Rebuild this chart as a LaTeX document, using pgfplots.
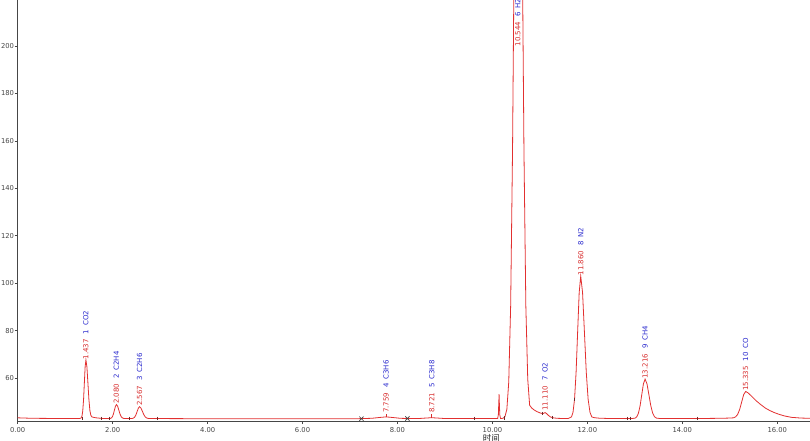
\documentclass[border=0pt]{standalone}
\usepackage{pgfplots}
\pgfplotsset{compat=1.18}
\usepackage{fontspec}
\setmainfont{DejaVu Sans}
\newfontfamily\cjk{Noto Sans CJK SC}
\definecolor{trace}{RGB}{226,48,48}
\definecolor{lblred}{RGB}{215,45,45}
\definecolor{lblblue}{RGB}{40,40,205}
\definecolor{axisgray}{RGB}{70,70,70}
\definecolor{mk}{RGB}{110,40,40}
\tikzset{lbl/.style={rotate=90, anchor=west, inner sep=0.5pt, font=\fontsize{7}{8}\selectfont}}
\begin{document}
\begin{tikzpicture}
\begin{axis}[
 at={(0,0)}, anchor=south west,
 scale only axis, width=792.3pt, height=421pt,
 xmin=0, xmax=16.69, ymin=41.86, ymax=219.4,
 axis x line=bottom, axis y line=left,
 axis line style={-, axisgray, line width=0.8pt},
 xtick={0,2,4,6,8,10,12,14,16}, ytick={60,80,100,120,140,160,180,200},
 tick align=outside, major tick length=3pt,
 tick style={axisgray, line width=0.6pt},
 ticklabel style={font=\fontsize{6.8}{8}\selectfont, text=axisgray},
 yticklabel style={inner sep=0.5pt, /pgf/number format/.cd, fixed, precision=0},
 /pgf/number format/assume math mode=true,
 xticklabel style={/pgf/number format/.cd, fixed, fixed zerofill, precision=2},
 clip=false,
]
\begin{scope}
\clip (axis cs:0,41.86) rectangle (axis cs:16.69,219.4);
\addplot[trace, line width=0.8pt] coordinates {
(0,43.2) (0.3,43.0) (1.0,42.9) (1.305,42.9) (1.338,43.17) (1.3545,43.98) (1.371,46.24) (1.3875,50.92) (1.404,57.88) (1.4205,64.7) (1.437,67.6) (1.458,64.7) (1.479,57.88) (1.5,50.92) (1.521,46.24) (1.542,44.2) (1.563,43.6) (1.6,43.4) (1.65,43.2) (1.7,43.1) (1.78,42.95)
(1.912,42.9) (1.954,42.97) (1.975,43.16) (1.996,43.7) (2.017,44.82) (2.038,46.48) (2.059,48.1) (2.08,48.8) (2.105,48.1) (2.13,46.48) (2.155,44.82) (2.18,43.7) (2.205,43.16) (2.23,42.97) (2.28,42.9)
(2.367,42.9) (2.417,42.96) (2.442,43.12) (2.467,43.58) (2.492,44.52) (2.517,45.93) (2.542,47.31) (2.567,47.9) (2.597,47.31) (2.627,45.93) (2.657,44.52) (2.687,43.58) (2.717,43.12) (2.747,42.96) (2.807,42.9)
(3.5,42.85) (5.0,42.8) (6.5,42.8) (7.2,42.85) (7.459,43.0) (7.609,43.32) (7.759,43.6) (7.909,43.32) (8.059,43.0) (8.21,42.91) (8.48,42.95) (8.6,43.11) (8.721,43.25) (8.84,43.11) (8.96,42.95) (9.5,42.9)
(10.11,42.9) (10.125,44.5) (10.135,50) (10.14,53.2) (10.145,50) (10.155,44.5) (10.17,42.9)
(10.224,43.0) (10.264,43.67) (10.304,46.8) (10.344,58.3) (10.384,90.3) (10.424,156.5) (10.464,254.9) (10.504,351.8) (10.544,392.9) (10.584,351.8) (10.624,254.9) (10.664,156.5) (10.704,90.3) (10.744,59.5) (10.784,48.5) (10.83,47.3) (10.88,46.5) (10.94,45.8) (11.0,45.3) (11.05,45.0) (11.08,45.1) (11.11,45.4) (11.14,45.0) (11.18,44.2) (11.22,43.6) (11.28,43.2) (11.36,43.0) (11.5,42.9)
(11.6,42.92) (11.665,43.57) (11.6975,45.54) (11.73,51.03) (11.7625,62.41) (11.795,79.35) (11.8275,95.94) (11.86,103.0) (11.899,95.94) (11.938,79.35) (11.977,62.41) (12.016,51.03) (12.055,45.54) (12.094,43.57) (12.15,43.25) (12.25,43.05) (12.4,42.95)
(12.936,42.9) (13.006,43.08) (13.041,43.63) (13.076,45.15) (13.111,48.29) (13.146,52.97) (13.181,57.55) (13.216,59.5) (13.256,57.55) (13.296,52.97) (13.336,48.29) (13.376,45.15) (13.416,43.63) (13.456,43.08) (13.536,42.9)
(14.3,42.9) (14.8,43.0) (14.995,43.1) (15.08,43.2) (15.1225,43.6) (15.165,44.6) (15.2075,46.7) (15.25,49.8) (15.2925,53.0) (15.335,54.3) (15.38,53.8) (15.45,52.5) (15.55,50.5) (15.65,48.8) (15.75,47.3) (15.85,46.2) (15.95,45.3) (16.05,44.6) (16.15,44.0) (16.3,43.4) (16.5,43.1) (16.69,43.0)
};
\end{scope}
% peak boundary markers
\addplot[only marks, mark=|, mark size=1.8pt, mark options={mk, line width=0.6pt}] coordinates {
(1.36,42.9) (1.77,42.95) (1.92,42.9) (2.35,42.9) (2.95,42.9) (9.62,42.9) (10.25,43.2) (11.26,43.3) (11.73,51.0) (12.84,42.9) (12.91,42.9) (14.32,42.9) (11.06,45.0)
};
\addplot[only marks, mark=x, mark size=3pt, mark options={black!75, line width=0.7pt}] coordinates {(7.24,42.85) (8.21,42.91)};
% connectors for small peaks
\addplot[lblred, line width=0.5pt] coordinates {(7.759,43.6) (7.759,45.0)};
\addplot[lblred, line width=0.5pt] coordinates {(8.721,43.25) (8.721,45.0)};
% labels
\node[lbl] at (axis cs:1.437,67.6) {\textcolor{lblred}{1.437}\hspace{5pt}\textcolor{lblblue}{1\hspace{4pt}CO2}};
\node[lbl] at (axis cs:2.080,48.8) {\textcolor{lblred}{2.080}\hspace{5pt}\textcolor{lblblue}{2\hspace{4pt}C2H4}};
\node[lbl] at (axis cs:2.567,47.9) {\textcolor{lblred}{2.567}\hspace{5pt}\textcolor{lblblue}{3\hspace{4pt}C2H6}};
\node[lbl] at (axis cs:7.759,45.0) {\textcolor{lblred}{7.759}\hspace{5pt}\textcolor{lblblue}{4\hspace{4pt}C3H6}};
\node[lbl] at (axis cs:8.721,45.0) {\textcolor{lblred}{8.721}\hspace{5pt}\textcolor{lblblue}{5\hspace{4pt}C3H8}};
\node[lbl] at (axis cs:10.535,199.6) {\textcolor{lblred}{10.544}\hspace{5pt}\textcolor{lblblue}{6\hspace{4pt}H2}};
\node[lbl] at (axis cs:11.110,46.0) {\textcolor{lblred}{11.110}\hspace{5pt}\textcolor{lblblue}{7\hspace{4pt}O2}};
\node[lbl] at (axis cs:11.860,103.0) {\textcolor{lblred}{11.860}\hspace{5pt}\textcolor{lblblue}{8\hspace{4pt}N2}};
\node[lbl] at (axis cs:13.216,59.5) {\textcolor{lblred}{13.216}\hspace{5pt}\textcolor{lblblue}{9\hspace{4pt}CH4}};
\node[lbl] at (axis cs:15.335,54.3) {\textcolor{lblred}{15.335}\hspace{5pt}\textcolor{lblblue}{10\hspace{4pt}CO}};
\node[anchor=north, inner sep=0pt, text=black!85, font=\cjk\fontsize{8.5}{9}\selectfont] at (axis cs:9.98,41.86) [yshift=-13pt] {时间};
\end{axis}
\pgfresetboundingbox
\path (-17.7pt,-20pt) rectangle (792.3pt,421pt);
\end{tikzpicture}
\end{document}
